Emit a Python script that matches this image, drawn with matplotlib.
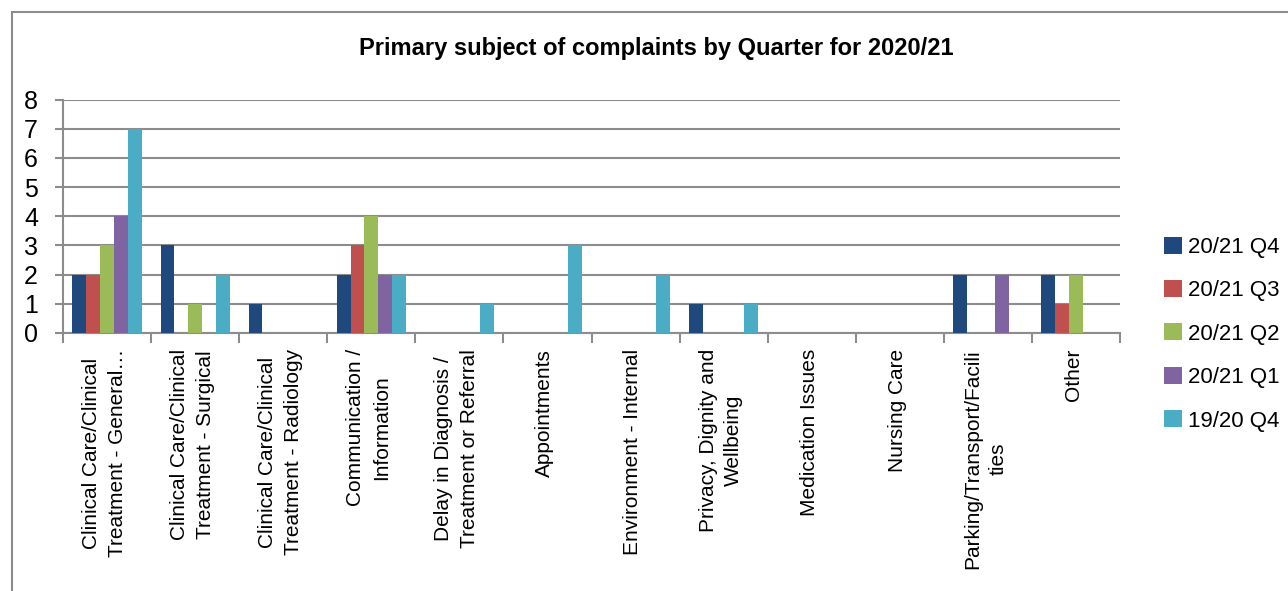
import numpy as np
import matplotlib
matplotlib.use('Agg')
from matplotlib import pyplot as plt
from matplotlib.patches import Rectangle

# data
categories = ['Clinical Care/Clinical\nTreatment - General\u2026',
              'Clinical Care/Clinical\nTreatment - Surgical',
              'Clinical Care/Clinical\nTreatment - Radiology',
              'Communication /\nInformation',
              'Delay in Diagnosis /\nTreatment or Referral',
              'Appointments',
              'Environment - Internal',
              'Privacy, Dignity and\nWellbeing',
              'Medication Issues',
              'Nursing Care',
              'Parking/Transport/Facili\nties',
              'Other']
series_names = ['20/21 Q4', '20/21 Q3', '20/21 Q2', '20/21 Q1', '19/20 Q4']
q4_2021 = [2, 3, 1, 2, 0, 0, 0, 1, 0, 0, 2, 2]
q3_2021 = [2, 0, 0, 3, 0, 0, 0, 0, 0, 0, 0, 1]
q2_2021 = [3, 1, 0, 4, 0, 0, 0, 0, 0, 0, 0, 2]
q1_2021 = [4, 0, 0, 2, 0, 0, 0, 0, 0, 0, 2, 0]
q4_1920 = [7, 2, 0, 2, 1, 3, 2, 1, 0, 0, 0, 0]
colors = ['#1F497D', '#C0504D', '#9BBB59', '#8064A2', '#4BACC6']

plt.rcParams['font.family'] = ['Liberation Sans', 'DejaVu Sans']
grey = '#8C8C8C'

fig = plt.figure(figsize=(12.88, 5.91), dpi=100)
fig.patches.append(Rectangle((12 / 1288, -0.1), 1.2, 1.1 - 12 / 591,
                             transform=fig.transFigure, fill=False,
                             edgecolor=grey, linewidth=1.5))

ax = fig.add_axes([63 / 1288, 1 - 333 / 591, (1120 - 63) / 1288, (333 - 99.5) / 591])

x = np.arange(len(categories))
w = 0.157
all_series = [q4_2021, q3_2021, q2_2021, q1_2021, q4_1920]
for i, vals in enumerate(all_series):
    ax.bar(x + (i - 2) * w, vals, width=w, color=colors[i], label=series_names[i],
           zorder=3)

ax.set_xlim(-0.5, len(categories) - 0.5)
ax.set_ylim(0, 8)
ax.set_yticks(range(0, 9))
ax.tick_params(axis='y', labelsize=18, length=6, color=grey, width=1.5, pad=12)

ax.set_xticks(np.arange(len(categories) + 1) - 0.5)
ax.set_xticklabels([])
ax.tick_params(axis='x', length=7, color=grey, width=1.5)
for xi, lab in zip(x, categories):
    ax.text(xi - 0.03, -0.55, lab, rotation=90, ha='center', va='top',
            multialignment='center', fontsize=15, linespacing=1.45,
            transform=ax.transData)

ax.grid(axis='y', color=grey, linewidth=1.5, zorder=0)
for s in ['top', 'right']:
    ax.spines[s].set_visible(False)
ax.spines['left'].set_color(grey)
ax.spines['left'].set_linewidth(1.5)
ax.spines['bottom'].set_color(grey)
ax.spines['bottom'].set_linewidth(1.5)

fig.text(656 / 1288, 1 - 48 / 591, 'Primary subject of complaints by Quarter for 2020/21',
         ha='center', va='center', fontsize=17, fontweight='bold')

leg = ax.legend(loc='center left', bbox_to_anchor=(1144 / 1288, 1 - 334 / 591),
                bbox_transform=fig.transFigure, frameon=False, fontsize=16,
                handlelength=0.8, handleheight=0.8, handletextpad=0.3,
                labelspacing=1.0)

plt.savefig('out.png', dpi=100)
